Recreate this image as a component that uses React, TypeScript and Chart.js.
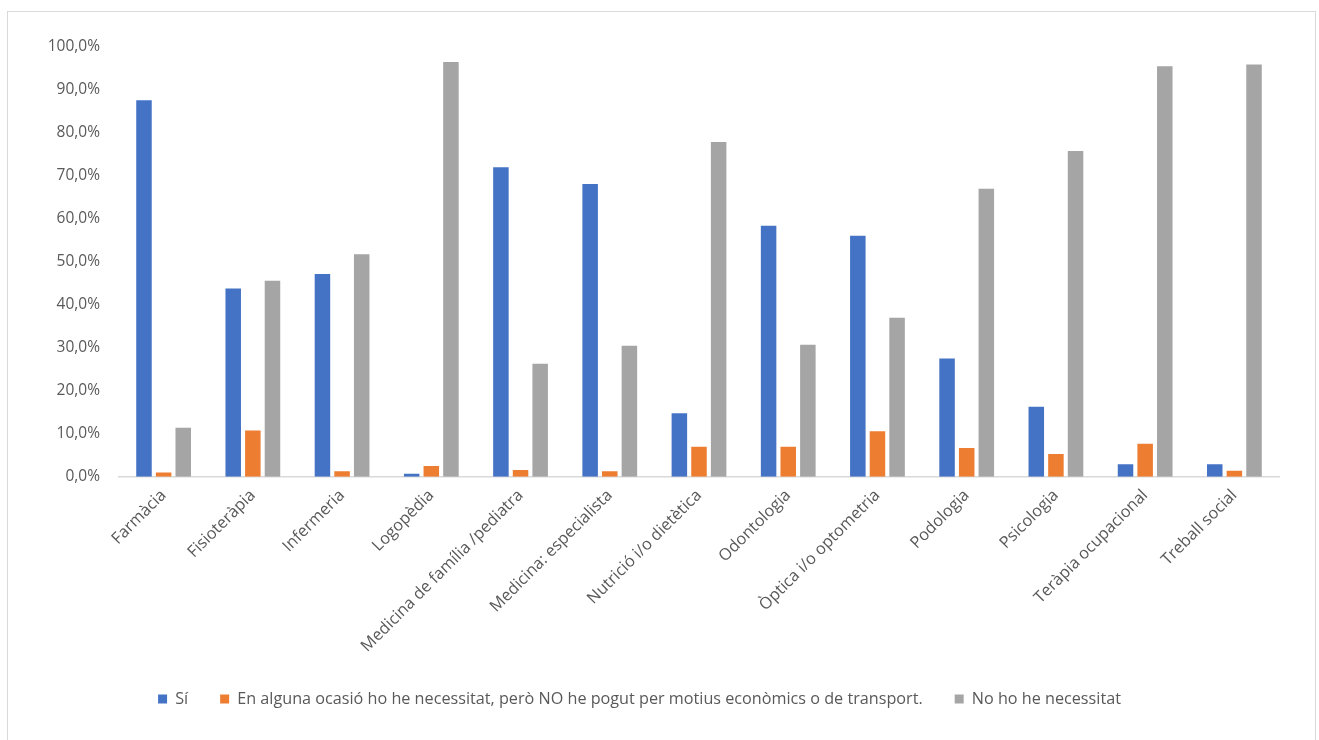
import React, { useEffect, useRef } from "react";
import { Chart, registerables } from "chart.js";

Chart.register(...registerables);

const categories = [
  "Farmàcia",
  "Fisioteràpia",
  "Infermeria",
  "Logopèdia",
  "Medicina de família /pediatra",
  "Medicina: especialista",
  "Nutrició i/o dietètica",
  "Odontologia",
  "Òptica i/o optometria",
  "Podologia",
  "Psicologia",
  "Teràpia ocupacional",
  "Treball social",
];

const seriesNames = [
  "Sí",
  "En alguna ocasió ho he necessitat, però NO he pogut per motius econòmics o de transport.",
  "No ho he necessitat",
];

const siValues = [87.6, 43.8, 47.2, 0.7, 72.0, 68.1, 14.8, 58.4, 56.1, 27.5, 16.3, 2.9, 2.9];
const noPogutValues = [1.0, 10.8, 1.3, 2.5, 1.6, 1.3, 7.0, 7.0, 10.6, 6.7, 5.3, 7.7, 1.4];
const noNecessitatValues = [11.4, 45.6, 51.8, 96.5, 26.3, 30.5, 77.9, 30.7, 37.0, 67.0, 75.8, 95.5, 95.9];

const colors = ["#4472C4", "#ED7D31", "#A5A5A5"];
const yTicks = [0, 10, 20, 30, 40, 50, 60, 70, 80, 90, 100];

const FONT = "'Open Sans', 'DejaVu Sans', sans-serif";
const TEXT = "#595959";

export default function App() {
  const canvasRef = useRef<HTMLCanvasElement | null>(null);

  useEffect(() => {
    const canvas = canvasRef.current;
    if (!canvas) return;
    const chart = new Chart(canvas, {
      type: "bar",
      data: {
        labels: categories,
        datasets: [siValues, noPogutValues, noNecessitatValues].map((d, i) => ({
          label: seriesNames[i],
          data: d,
          backgroundColor: colors[i],
          borderWidth: 0,
          categoryPercentage: 0.66,
          barPercentage: 0.79,
        })),
      },
      options: {
        animation: false,
        responsive: false,
        maintainAspectRatio: false,
        layout: { padding: { top: 47, left: 0, right: 40, bottom: 23 } },
        plugins: {
          tooltip: { enabled: false },
          legend: {
            position: "bottom",
            align: "center",
            labels: {
              boxWidth: 9,
              boxHeight: 9,
              padding: 32,
              color: TEXT,
              font: { family: FONT, size: 16.2 },
            },
          },
        },
        scales: {
          x: {
            grid: { display: false, drawTicks: false },
            border: { display: true, color: "#D9D9D9", width: 1.5 },
            ticks: {
              autoSkip: false,
              minRotation: 45,
              maxRotation: 45,
              padding: 9,
              color: TEXT,
              font: { family: FONT, size: 16.3 },
            },
            afterFit: (scale: any) => {
              scale.height = 182;
            },
          },
          y: {
            min: 0,
            max: 100,
            afterBuildTicks: (scale: any) => {
              scale.ticks = yTicks.map((v) => ({ value: v }));
            },
            grid: { display: false, drawTicks: false },
            border: { display: false },
            ticks: {
              padding: 19,
              color: TEXT,
              font: { family: FONT, size: 15.5 },
              callback: (v: any) => Number(v).toFixed(1).replace(".", ",") + "%",
            },
            afterFit: (scale: any) => {
              scale.width = 119;
            },
          },
        },
      },
    });
    return () => chart.destroy();
  }, []);

  return (
    <div
      style={{
        position: "absolute",
        left: 0,
        top: 0,
        width: 1319,
        height: 740,
        overflow: "hidden",
        background: "#fff",
      }}
    >
      <div
        style={{
          position: "absolute",
          left: 7,
          top: 11,
          width: 1309,
          height: 760,
          border: "1px solid #D9D9D9",
          boxSizing: "border-box",
        }}
      />
      <canvas
        ref={canvasRef}
        width={1319}
        height={740}
        style={{ position: "absolute", left: 0, top: 0, width: 1319, height: 740 }}
      />
    </div>
  );
}
